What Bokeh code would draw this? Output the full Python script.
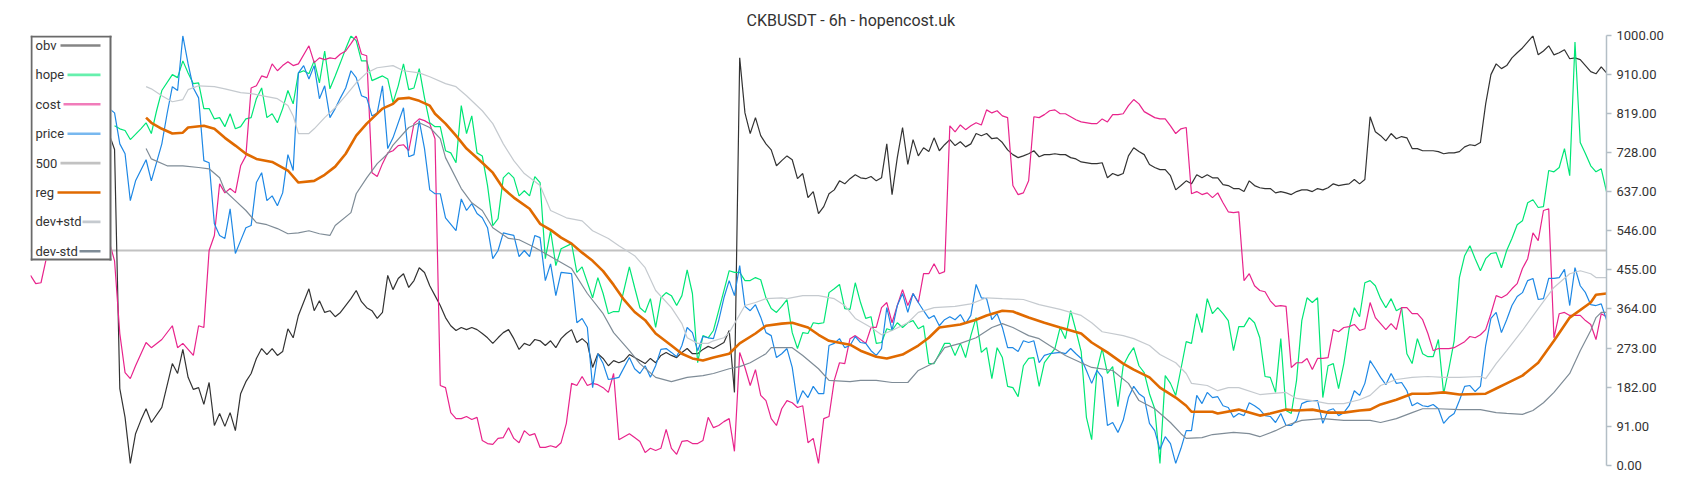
from bokeh.plotting import figure
from bokeh.models import Range1d, FixedTicker, NumeralTickFormatter, Span, BoxAnnotation, Label
from bokeh.embed import file_html
from bokeh.resources import INLINE

TITLE = "CKBUSDT - 6h - hopencost.uk"
y_ticks = [0, 91, 182, 273, 364, 455, 546, 637, 728, 819, 910, 1000]
n_bars = 301
level_500 = 500

# (bar index, value) pairs
obv_pts = [(15,770),(16,735),(17,179),(18,112),(19,5),(20,74),(21,105),(22,132),(23,100),(25,135),(27,237),(28,214),(29,270),(30,205),(31,177),(32,181),(33,142),(34,193),(35,93),(36,121),(37,91),(38,123),(39,81),(40,167),(41,195),(42,214),(43,249),(44,272),(45,258),(46,272),(47,256),(48,265),(49,318),(50,297),(51,349),(53,411),(54,360),(55,383),(56,356),(57,360),(58,346),(59,356),(61,388),(62,407),(63,381),(64,367),(65,360),(66,342),(67,356),(68,442),(69,409),(70,435),(71,446),(72,414),(73,430),(74,460),(75,449),(76,418),(77,395),(78,372),(79,344),(80,325),(81,314),(82,321),(83,316),(84,321),(85,316),(86,307),(87,297),(88,284),(89,297),(90,309),(91,316),(92,295),(93,270),(94,284),(95,279),(96,293),(97,290),(98,279),(99,290),(100,274),(101,295),(102,307),(103,316),(104,286),(105,295),(106,284),(107,228),(108,260),(109,249),(110,232),(111,244),(112,239),(113,244),(114,258),(115,251),(116,244),(117,237),(118,249),(119,239),(120,256),(121,263),(122,256),(123,251),(124,263),(125,272),(126,260),(127,260),(128,270),(129,277),(130,272),(131,279),(132,286),(133,314),(134,170),(135,948),(136,820),(137,772),(138,809),(139,767),(140,748),(141,734),(142,697),(143,709),(144,720),(145,711),(146,667),(147,679),(148,623),(149,637),(150,586),(151,602),(152,632),(153,641),(154,662),(155,655),(156,667),(157,676),(158,669),(159,667),(160,672),(161,662),(162,669),(163,748),(164,630),(165,716),(166,786),(167,700),(168,758),(169,720),(170,739),(171,730),(172,762),(173,732),(174,746),(175,758),(176,744),(177,753),(178,741),(179,748),(180,772),(181,767),(182,772),(183,760),(184,762),(185,751),(186,734),(187,723),(188,716),(189,720),(190,725),(191,732),(192,718),(193,723),(194,723),(195,725),(196,723),(197,723),(198,716),(199,713),(200,706),(202,702),(203,702),(204,704),(205,669),(206,679),(207,674),(208,679),(209,720),(210,739),(211,730),(212,723),(213,700),(214,693),(215,688),(216,688),(217,674),(218,641),(219,651),(220,662),(221,655),(222,676),(223,669),(224,676),(225,669),(226,669),(227,653),(228,651),(229,644),(230,644),(231,637),(232,662),(233,651),(234,646),(235,644),(236,644),(237,634),(238,637),(239,634),(240,630),(241,637),(242,641),(243,641),(244,637),(245,644),(246,641),(247,646),(248,655),(249,651),(250,653),(251,655),(252,665),(253,655),(254,665),(255,811),(256,776),(257,767),(258,755),(259,772),(260,760),(261,765),(262,762),(263,737),(264,737),(265,732),(266,732),(267,732),(268,730),(269,725),(270,727),(271,727),(272,730),(273,741),(274,746),(275,744),(276,751),(277,841),(278,909),(279,934),(280,923),(281,930),(282,948),(283,960),(284,971),(285,985),(286,999),(287,955),(288,964),(289,976),(290,955),(291,960),(292,967),(293,946),(294,948),(295,944),(296,930),(297,916),(298,911),(299,927),(300,913)]

hope_pts = [(16,790),(17,783),(18,779),(19,758),(21,783),(22,797),(23,772),(24,825),(25,872),(27,909),(28,902),(29,941),(30,913),(31,888),(32,890),(33,830),(34,830),(35,806),(36,809),(37,788),(38,818),(39,783),(40,788),(41,806),(42,809),(43,853),(44,878),(45,809),(46,818),(47,797),(48,830),(49,872),(50,841),(51,913),(52,918),(53,911),(54,941),(55,890),(56,964),(57,876),(58,906),(59,937),(60,969),(61,999),(62,988),(63,941),(64,941),(65,895),(67,906),(68,899),(69,844),(70,883),(71,934),(72,874),(73,878),(74,923),(75,855),(76,797),(77,788),(78,788),(79,732),(80,727),(81,704),(82,837),(83,772),(84,813),(85,727),(86,720),(87,651),(88,558),(89,574),(90,669),(91,681),(92,669),(93,627),(94,639),(95,627),(96,672),(97,658),(98,481),(99,546),(100,465),(101,504),(103,516),(104,449),(105,462),(107,390),(108,437),(109,400),(110,353),(111,358),(112,358),(114,462),(115,414),(116,367),(117,356),(118,388),(119,321),(120,390),(121,402),(122,395),(123,372),(124,395),(125,455),(126,400),(127,239),(128,302),(129,297),(130,314),(131,360),(133,453),(134,449),(135,449),(136,430),(137,430),(138,437),(139,432),(140,390),(141,365),(142,356),(143,370),(144,386),(145,309),(146,272),(147,309),(148,307),(149,332),(150,330),(151,332),(152,402),(153,411),(154,421),(155,365),(156,363),(157,425),(158,379),(159,342),(160,346),(161,284),(162,286),(163,318),(164,314),(165,332),(166,321),(167,332),(168,337),(169,318),(170,325),(171,237),(172,237),(173,260),(174,284),(175,284),(176,256),(177,284),(178,251),(179,302),(180,344),(181,263),(182,274),(183,202),(184,274),(185,251),(186,184),(187,181),(188,160),(189,232),(190,249),(191,251),(192,184),(193,239),(195,272),(196,321),(197,295),(198,360),(199,314),(200,265),(201,112),(202,60),(203,221),(204,272),(205,214),(206,230),(207,137),(208,232),(209,256),(210,274),(211,232),(212,216),(213,167),(214,132),(215,5),(216,209),(217,191),(218,163),(219,225),(220,288),(221,284),(222,353),(223,309),(224,388),(225,353),(226,367),(227,353),(228,337),(229,267),(230,323),(231,323),(232,344),(233,332),(234,297),(235,207),(236,205),(237,170),(238,295),(239,128),(240,121),(241,198),(242,337),(243,390),(244,379),(245,390),(246,158),(247,232),(248,237),(249,179),(250,237),(251,318),(252,367),(253,346),(254,425),(255,430),(256,418),(257,388),(258,367),(259,388),(260,360),(261,367),(262,260),(263,237),(264,295),(265,260),(266,253),(267,253),(268,293),(269,167),(270,225),(271,290),(272,437),(273,488),(274,511),(275,481),(276,453),(277,481),(278,493),(279,495),(280,460),(281,500),(282,528),(283,560),(284,569),(285,611),(286,618),(287,600),(288,602),(289,686),(290,683),(291,693),(292,737),(293,674),(294,985),(295,751),(296,725),(297,697),(298,683),(299,690),(300,637)]

cost_pts = [(0,442),(1,423),(2,425),(3,481),(4,640),(8,680),(12,660),(14,640),(15,520),(16,476),(17,307),(18,216),(19,202),(20,232),(22,286),(23,274),(25,293),(27,325),(28,274),(29,284),(31,256),(32,325),(33,321),(34,500),(35,535),(36,655),(37,634),(38,644),(39,634),(40,697),(41,720),(42,878),(43,883),(44,906),(45,902),(46,934),(47,918),(48,930),(49,939),(50,930),(51,934),(53,976),(54,937),(55,948),(56,944),(57,948),(58,946),(59,957),(60,964),(61,981),(62,999),(63,957),(64,953),(65,681),(66,672),(67,702),(68,727),(69,732),(70,744),(71,746),(72,732),(73,795),(74,806),(75,802),(76,795),(77,760),(78,186),(79,181),(80,123),(81,109),(82,109),(83,114),(84,107),(85,112),(86,58),(87,51),(88,49),(89,63),(90,65),(91,88),(92,63),(93,53),(94,81),(95,70),(96,74),(97,42),(98,42),(99,46),(100,42),(101,53),(102,98),(103,191),(104,186),(105,207),(106,186),(107,191),(108,188),(109,181),(110,170),(111,214),(112,60),(114,74),(115,65),(116,56),(117,30),(118,40),(119,35),(120,40),(121,84),(122,40),(123,26),(124,56),(125,58),(126,51),(127,51),(128,58),(129,112),(130,88),(131,93),(132,102),(133,109),(134,33),(135,263),(136,228),(137,186),(138,223),(139,163),(140,151),(141,109),(142,93),(143,132),(144,151),(145,146),(146,135),(147,139),(148,53),(149,63),(150,5),(151,109),(152,114),(153,198),(154,239),(155,237),(156,295),(157,302),(158,293),(159,284),(160,321),(161,321),(162,367),(163,379),(164,332),(165,372),(166,409),(167,372),(168,400),(169,379),(170,446),(171,446),(172,469),(173,446),(174,451),(175,790),(176,776),(177,792),(178,781),(179,790),(180,797),(181,792),(182,827),(183,820),(184,825),(185,813),(186,809),(187,651),(188,630),(189,634),(190,662),(191,811),(192,809),(193,816),(194,825),(195,827),(196,818),(197,818),(198,811),(199,804),(200,799),(202,795),(203,795),(204,806),(205,799),(206,816),(207,816),(208,818),(209,837),(210,851),(211,841),(212,823),(213,816),(214,809),(215,806),(216,806),(217,790),(218,772),(219,783),(220,786),(221,632),(222,637),(223,630),(224,634),(225,623),(226,634),(227,611),(228,590),(229,588),(230,590),(231,430),(232,446),(233,418),(234,407),(235,404),(236,383),(237,370),(238,372),(239,370),(240,228),(241,239),(242,239),(243,249),(244,223),(245,249),(246,249),(247,251),(248,316),(249,311),(250,321),(251,323),(252,328),(253,314),(254,318),(255,379),(256,344),(257,330),(258,316),(259,330),(260,316),(261,367),(262,367),(263,353),(264,353),(265,339),(266,307),(267,267),(268,272),(269,272),(270,272),(271,274),(272,281),(273,288),(274,300),(275,297),(276,304),(277,316),(278,353),(279,395),(280,390),(281,397),(282,411),(283,423),(284,458),(285,481),(286,541),(287,523),(288,593),(289,597),(290,297),(291,353),(292,356),(293,349),(294,349),(295,349),(296,337),(297,328),(298,293),(299,353),(300,346)]

price_pts = [(15,830),(16,820),(17,748),(18,725),(19,616),(20,662),(22,711),(23,662),(25,748),(26,818),(27,881),(28,872),(29,999),(30,934),(31,878),(32,855),(33,709),(34,704),(35,562),(36,535),(37,528),(38,597),(39,493),(40,523),(41,553),(42,558),(43,658),(44,681),(45,616),(46,627),(47,604),(48,634),(49,723),(50,686),(51,913),(52,930),(53,899),(54,930),(55,853),(56,883),(57,809),(58,830),(59,855),(60,878),(61,918),(62,902),(63,860),(64,855),(65,813),(66,820),(67,883),(68,737),(69,762),(71,832),(72,718),(73,723),(74,802),(75,737),(76,641),(77,632),(78,632),(79,576),(81,546),(82,620),(83,593),(84,609),(85,586),(86,576),(87,553),(88,481),(89,500),(90,541),(92,535),(93,486),(94,500),(95,486),(96,535),(97,530),(98,430),(99,469),(100,395),(101,449),(103,446),(104,332),(105,342),(106,321),(107,181),(108,260),(109,237),(110,200),(111,202),(112,205),(114,251),(115,225),(116,214),(117,232),(118,205),(119,232),(120,270),(121,272),(122,263),(123,253),(124,279),(125,321),(126,309),(127,267),(128,300),(129,297),(130,295),(131,337),(132,390),(133,430),(134,395),(135,465),(136,370),(137,360),(138,374),(139,345),(140,309),(141,302),(142,251),(143,260),(144,272),(145,228),(146,144),(147,174),(148,158),(149,184),(150,167),(151,167),(152,279),(153,284),(154,295),(155,274),(156,279),(157,300),(158,286),(159,284),(160,267),(161,256),(162,272),(163,367),(164,314),(165,372),(166,400),(167,356),(168,400),(169,379),(170,360),(171,342),(172,349),(173,325),(174,339),(175,346),(176,339),(177,351),(178,330),(179,349),(180,421),(181,390),(182,388),(183,339),(184,353),(185,321),(186,274),(187,274),(188,265),(189,290),(190,286),(191,290),(192,239),(193,256),(194,260),(196,263),(197,260),(198,272),(199,260),(200,249),(201,221),(202,191),(203,221),(204,205),(205,93),(206,100),(207,77),(208,105),(209,158),(210,184),(211,167),(212,158),(213,98),(214,81),(215,37),(216,67),(217,51),(218,5),(219,40),(220,81),(221,81),(222,163),(223,144),(224,170),(225,158),(226,160),(227,139),(228,135),(229,112),(230,121),(231,116),(232,146),(233,139),(234,130),(235,116),(236,114),(237,100),(238,121),(239,93),(240,93),(241,105),(242,144),(243,149),(244,151),(245,151),(246,98),(247,128),(248,132),(249,116),(250,123),(251,139),(252,174),(253,163),(254,191),(255,244),(256,225),(257,205),(258,188),(259,214),(260,191),(261,193),(262,174),(263,139),(264,146),(265,139),(266,137),(267,142),(268,132),(269,98),(270,112),(271,121),(272,151),(273,184),(274,186),(275,172),(276,184),(277,279),(278,342),(279,356),(280,309),(281,339),(282,372),(283,393),(284,402),(285,430),(286,435),(287,386),(288,388),(289,435),(290,435),(291,437),(292,456),(293,372),(294,460),(295,418),(296,402),(297,374),(298,372),(299,376),(300,339)]

reg_pts = [(22,809),(23,797),(25,783),(27,772),(29,774),(30,786),(33,790),(35,783),(37,762),(39,744),(41,725),(43,713),(46,706),(49,686),(51,658),(54,662),(56,676),(58,695),(60,725),(62,767),(64,795),(67,830),(69,841),(70,853),(72,855),(74,848),(76,837),(77,818),(79,795),(81,767),(83,737),(86,704),(88,681),(90,644),(92,623),(95,597),(97,562),(99,548),(101,530),(103,516),(105,495),(107,476),(109,452),(111,420),(113,385),(115,357),(117,338),(119,307),(122,279),(124,260),(126,249),(128,244),(130,251),(133,260),(135,284),(138,307),(140,325),(143,330),(145,332),(148,321),(150,304),(152,290),(156,281),(158,267),(161,253),(163,249),(166,258),(169,279),(171,297),(173,321),(177,328),(180,339),(182,349),(185,360),(187,358),(190,344),(193,332),(196,321),(200,307),(202,286),(205,263),(208,237),(210,223),(213,205),(215,181),(218,158),(220,139),(221,125),(225,125),(226,121),(230,130),(234,116),(236,121),(239,130),(241,128),(244,130),(247,123),(250,123),(253,128),(255,130),(257,142),(260,153),(263,167),(266,167),(269,170),(272,165),(277,167),(279,179),(281,191),(284,209),(287,239),(290,290),(293,344),(297,379),(298,397),(300,400)]

dev_plus_pts = [(22,881),(23,876),(25,860),(27,846),(29,851),(30,874),(32,883),(35,881),(37,876),(40,867),(42,865),(45,858),(47,853),(49,837),(50,813),(51,772),(53,772),(54,783),(56,809),(58,832),(60,860),(62,890),(64,913),(66,925),(69,930),(71,918),(74,913),(76,904),(79,888),(81,881),(83,860),(86,825),(88,795),(90,748),(92,709),(94,679),(97,651),(99,593),(102,576),(105,569),(107,546),(110,528),(112,511),(115,488),(117,460),(119,407),(122,367),(124,330),(125,297),(127,284),(129,284),(130,290),(132,297),(133,309),(136,372),(138,379),(140,388),(143,390),(144,388),(147,395),(150,395),(153,388),(155,372),(157,342),(160,321),(162,304),(164,314),(167,332),(169,356),(172,367),(176,370),(179,376),(182,390),(185,388),(189,386),(192,374),(196,363),(200,349),(202,332),(204,311),(208,302),(210,295),(213,279),(215,258),(218,239),(220,214),(221,191),(224,186),(226,174),(228,181),(230,181),(234,165),(236,167),(239,170),(241,156),(244,151),(247,144),(250,144),(253,153),(255,163),(257,186),(260,200),(263,205),(266,207),(269,205),(272,205),(276,207),(277,202),(279,237),(281,267),(284,314),(287,365),(290,414),(293,446),(295,453),(297,446),(298,437),(300,437)]

dev_minus_pts = [(22,737),(23,713),(26,697),(29,697),(32,693),(34,690),(36,669),(37,639),(39,616),(41,593),(43,565),(45,560),(47,551),(49,539),(51,541),(53,546),(55,539),(57,535),(58,558),(61,588),(62,632),(64,669),(66,702),(68,725),(69,745),(72,786),(74,797),(76,786),(78,760),(79,716),(82,644),(84,611),(86,593),(88,553),(91,528),(93,525),(96,507),(98,493),(101,472),(103,458),(106,400),(109,353),(111,309),(114,267),(116,237),(119,205),(122,195),(125,205),(128,209),(130,214),(133,225),(135,230),(137,239),(140,260),(141,274),(145,274),(147,256),(150,225),(152,198),(156,195),(158,198),(161,198),(164,193),(167,193),(169,221),(172,239),(174,274),(177,284),(180,297),(183,321),(185,330),(187,321),(190,302),(192,295),(194,279),(197,256),(200,239),(202,228),(206,221),(209,191),(211,151),(214,132),(217,100),(219,74),(220,63),(223,65),(225,72),(229,77),(232,74),(234,67),(237,81),(239,93),(242,105),(246,109),(250,105),(255,105),(257,100),(260,109),(263,123),(265,132),(268,132),(272,130),(276,130),(279,123),(281,121),(284,119),(286,128),(288,146),(290,170),(293,214),(295,267),(297,314),(298,344),(299,356),(300,356)]

series = [
    ("obv", obv_pts, "#333333", 1.2, 0.6),
    ("hope", hope_pts, "#00e676", 1.2, 0.6),
    ("cost", cost_pts, "#e8248c", 1.2, 0.6),
    ("price", price_pts, "#1e88e5", 1.2, 0.6),
    ("500", None, "#c2c2c2", 1.8, 1.0),
    ("reg", reg_pts, "#e06a00", 2.6, 1.0),
    ("dev+std", dev_plus_pts, "#c5cacf", 1.2, 1.0),
    ("dev-std", dev_minus_pts, "#7f8c97", 1.2, 1.0),
]

W, H = 1684, 484
B_LEFT, B_RIGHT, B_TOP, B_BOTTOM = 30, 78, 35, 19

p = figure(width=W, height=H, x_range=Range1d(0, n_bars - 1), y_range=Range1d(0, 1000),
           y_axis_location="right", output_backend="svg", toolbar_location=None,
           min_border_left=B_LEFT, min_border_right=B_RIGHT,
           min_border_top=B_TOP, min_border_bottom=B_BOTTOM,
           background_fill_color="white", border_fill_color="white")
p.xaxis.visible = False
p.grid.visible = False
p.outline_line_color = None

p.title.text = TITLE
p.title.align = "left"
p.title.offset = 716
p.title.text_font = "Roboto"
p.title.text_font_size = "16px"
p.title.text_font_style = "normal"
p.title.text_color = "#333333"
p.title.standoff = 12

ax = p.yaxis[0]
ax.ticker = FixedTicker(ticks=y_ticks)
ax.formatter = NumeralTickFormatter(format="0.00")
ax.axis_line_color = "#b3bec6"
ax.axis_line_width = 1.5
ax.major_tick_line_color = "#b3bec6"
ax.major_tick_line_width = 1.5
ax.major_tick_out = 5
ax.major_tick_in = 0
ax.minor_tick_line_color = None
ax.major_label_text_font = "Roboto"
ax.major_label_text_font_size = "13px"
ax.major_label_text_color = "#333333"
ax.major_label_standoff = 5

for name, pts, color, width, _ in series:
    if pts is None:
        p.add_layout(Span(location=level_500, dimension="width", line_color=color,
                          line_width=width, level="underlay"))
        continue
    xs = [a for a, b in pts]
    ys = [b for a, b in pts]
    p.line(xs, ys, line_color=color, line_width=width)


def sbox(left, right, top, bottom, color, alpha=1.0):
    return BoxAnnotation(left=left, right=right, top=top, bottom=bottom,
                         left_units="screen", right_units="screen",
                         top_units="screen", bottom_units="screen",
                         fill_color=color, fill_alpha=alpha, line_alpha=0,
                         level="overlay")


# legend (frame-relative screen units, y measured up from the frame bottom)
frame_h = H - B_TOP - B_BOTTOM
leg_w, leg_h, bw = 81, 225, 2
leg_top, leg_bot = frame_h, frame_h - leg_h
border = "#6a6a6a"
p.add_layout(sbox(0, leg_w, leg_top, leg_bot, "white"))
p.add_layout(sbox(0, bw, leg_top, leg_bot, border))
p.add_layout(sbox(leg_w - bw, leg_w, leg_top, leg_bot, border))
p.add_layout(sbox(0, leg_w, leg_top, leg_top - bw, border))
p.add_layout(sbox(0, leg_w, leg_bot + bw, leg_bot, border))

row0, row_step = 10, 29.4
sample_start = [30, 37, 33, 37, 30, 27, 52, 49]
sample_end = 70
for k, (name, pts, color, width, alpha) in enumerate(series):
    yc = frame_h - row0 - row_step * k
    p.add_layout(Label(x=5, y=yc, x_units="screen", y_units="screen", text=name,
                       text_font="Roboto", text_font_size="13px", text_color="#333333",
                       text_baseline="middle", level="overlay"))
    p.add_layout(sbox(sample_start[k], sample_end, yc + 1.3, yc - 1.3, color, alpha))

open("out.html", "w").write(file_html(p, INLINE))
